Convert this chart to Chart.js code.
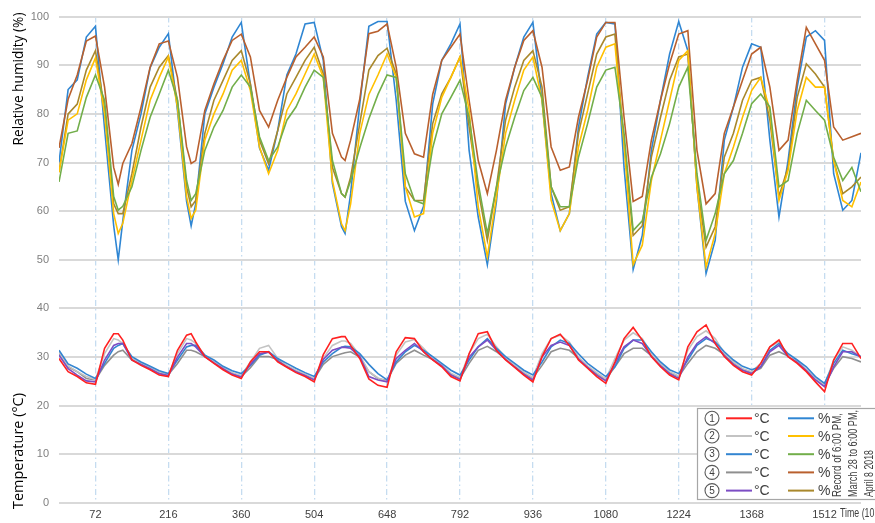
<!DOCTYPE html>
<html><head><meta charset="utf-8">
<script src="https://cdn.jsdelivr.net/npm/chart.js@4.4.1/dist/chart.umd.min.js"></script>
<style>html,body{margin:0;padding:0;background:#fff;overflow:hidden}canvas{display:block}</style>
</head><body>
<canvas id="c" width="875" height="523" style="width:875px;height:523px"></canvas>
<script>
// ---- data (time in 10-minute steps) ----
const time = [0,18,36,54,72,90,108,117,126,144,162,180,198,216,234,252,261,270,288,306,324,342,360,378,396,414,432,450,468,486,504,522,540,558,565,576,594,612,630,648,666,684,702,720,738,756,774,792,810,828,846,864,882,900,918,936,954,972,990,1008,1026,1044,1062,1080,1098,1116,1134,1152,1170,1188,1206,1224,1242,1260,1278,1296,1314,1332,1350,1368,1386,1404,1422,1440,1458,1476,1494,1512,1530,1548,1566,1584];
const xTicks = [72,216,360,504,648,792,936,1080,1224,1368,1512];
const yTicks = [0,10,20,30,40,50,60,70,80,90,100];

// relative humidity (%)
const rh1 = [70,85,87,95.8,98,77,57,50,58,72.5,80, 89.5,93.7,96.5,80.7,62,57,61.5,80,85.5,90.3,95.8, 98.8,86,73,68.4,76.6,88,92.3,98.5,98.8,91, 65.7,56.8,55.4,63.6,82,98,99,99,82.8,62,56, 61,82,91,94.4,98.5,72.5,58.8,49,62,82, 89.6,95.8,98.8,82.8,63.6,56,59.5,77.3,87.5,96.4, 98.8,98.5,69,48,55,72.5,82.8,92.3,99,93, 65,47.2,54,74.6,81.4,89.6,94.4,93.7,74.6,58.8, 70.4,85.5,95.8,97.1,95.1,67.7,60.2,62.2,72];
const rh2 = [68,78.7,80,87,91.5,80,59.5,55.4,57.5,66.3,74.6, 82.8,87.5,91.7,81.4,63,58.5,60.2,74.6,80,84.1,89, 91,84.8,73.2,67.7,72.5,80.7,84.1,88.2,92.3,87.5, 66.3,57.4,56,61.5,76,84,88,92.3,87.5,65,58.8, 59.5,76,83.4,87.5,91.7,80.7,60.9,50.6,63,76, 82.8,89,91.7,82.8,62.2,56,59.5,73.2,80.7,89.6, 93.7,94.4,74,49,53,66.3,74.6,82.8,91,93, 65,48.5,55.4,67.7,73.2,79.3,84.8,87.5,80.7,62.2, 68.4,80.7,87.5,85.5,85.5,70.4,62.2,60.9,66];
const rh3 = [66,76,76.5,83.4,88,82.8,63,60.2,61,65,72.5, 79.3,84.1,89,82.8,66.3,62.2,63.6,72.5,77.3,80.7,85.5, 88,85.5,75.3,70.4,73.2,78.7,81.4,85.5,89,87.5, 70.4,63.6,62.9,66.3,73,79,84,88,87.5,67.7,62.2, 61.5,73,80,83.4,86.9,79.3,65.7,55.4,65,73.2, 79.3,84.8,87.5,83.4,65,60.9,60.9,71.1,78,85.5, 89,89.6,76,56,58,67,71.8,78,85.5,89.6, 67.7,54,59.5,67.7,70.4,76,82.1,84.1,81.4,65, 66.3,76,82.8,80.7,78.7,71.1,66.3,69,64];
const rh4 = [73,83,88,95,96,85.5,69,65.5,69.8,73.9,81.4, 89.6,94.4,95,87.5,73.2,69.8,70.4,80.7,86.2,91,95.1, 96.4,91.7,80.7,77.3,82.8,87.5,91.7,93.7,95.8,91.7, 76,71.1,70.4,74.6,83,96.5,97,98.5,89.6,76,71.8, 71.1,84,91,93.7,96.4,82.8,70.4,63.6,72.5,82.8, 89.6,95.1,97.1,89.6,73.2,68.4,69.1,79.3,86.9,95.8, 98.8,98.8,79.3,62,63,74.6,82.8,90.3,96.4,97.1, 72.5,61.5,63.6,76,81.4,86.9,92.3,93.7,85.5,72.5, 74.6,86.9,97.8,94.4,91,77.3,74.6,75.3,76];
const rh5 = [68,80,82,89,93,81,61.5,59.5,59.5,67.7,77.3, 85.5,89.6,92,82.8,65,60.9,62.2,76,82.8,86.9,91, 93,86.2,74.6,69.7,76.6,84.1,87.5,91,93.7,88.2, 69,63.6,62.9,67,78,89,92,93.5,88.2,65,62.2, 62.2,78,84.1,87.5,91.7,77.3,64.3,54,65,78.7, 85.5,91,93,85.5,65,60.2,60.9,76,84.1,92.3, 95.8,96.4,73.9,55,57,71.1,79.3,86.9,91.7,92.3, 65.7,52.6,56.8,71.1,76,82.8,86.9,87.5,78.7,63, 69.1,83.4,90.3,88.2,85.5,70.4,63.6,65,67];

// temperature (°C)
const t1 = [29.7,27,26,24.7,24.4,31.8,34.8,34.8,33.5,29.4,28.3, 27.4,26.3,26,31.4,34.5,34.8,33.1,30.1,28.7,27.4,26.3, 25.6,29,31.1,31.1,29,27.9,26.8,26,24.9,30.5, 33.8,34.2,34.2,32.4,29.7,25.5,24.2,23.8,31.1,34,33.8, 31.1,29.4,28,26,25.1,30.7,34.8,35.2,31.4,29.4, 27.9,26.3,24.9,30.1,33.8,34.7,32.4,29.4,27.7,26, 24.6,29,33.8,36.1,33.5,30.1,28,26.3,25.3,32.1, 35.2,36.6,32.8,30.1,28.3,27,26.3,28.7,32.1,33.5, 30.1,28.7,27,24.9,22.9,29.4,32.8,32.8,29.7];
const t2 = [31,28.2,27,26,25.4,30.7,33.8,33.5,32.8,29.7,28.8, 27.8,26.9,26.3,30.7,33.8,33.5,32.8,30.4,29,27.8,26.8, 26.2,29,31.8,32.4,29.7,28.3,27.3,26.5,25.6,29.8, 32.4,33.3,33.3,32.8,30.4,27,25.7,25,30.4,33.1,33.6, 31.8,29.8,28.3,26.7,25.8,30.7,33.8,34.7,32.1,29.9, 28.3,26.9,25.8,30.7,33.8,34.5,33.1,30,28.2,26.8, 25.5,29.7,33.5,35,33.8,30.7,28.6,27,26.1,31.4, 34.2,35.4,33.8,30.8,29,27.6,27,28.7,32.1,33.1, 30.4,29.1,27.5,25.6,24.3,29.4,32.1,31.4,30];
const t3 = [31.4,28.6,27.7,26.5,25.6,28.7,31.8,32.4,32.8,30.1,29, 28.1,27.2,26.6,29.4,32.1,32.4,32.4,30.4,29.4,28.1,27.2, 26.6,28.3,30.4,31.1,29.7,28.7,27.7,26.8,26,29, 30.7,32,32.2,32.1,30.7,28.5,26.6,25.3,29,31.1,32.4, 31.4,30.1,28.7,27.3,26.3,29.4,32.1,33.8,31.8,30.1, 28.7,27.3,26.3,29,32.1,33.5,32.8,30.7,28.7,27.3, 26,28,31.8,33.5,33.5,31.1,29,27.4,26.6,29.4, 32.4,33.8,33.1,31.1,29.4,28.1,27.4,28,31.4,32.8, 30.7,29.4,28,26,24.6,28.7,31.4,30.7,30.1];
const t4 = [30.7,28,27,25.6,25.3,28.3,30.4,31.1,31.4,29.4,28.6, 27.7,26.8,26.4,28.7,31.4,31.4,31.1,30.1,28.9,27.7,26.7, 26,27.8,30.1,30.1,29.5,28.2,27.1,26.3,25.5,28.5, 30.1,30.7,30.9,31.1,30,27,25.6,25.2,28.7,30.4,31.4, 30.4,29.5,28.3,26.5,25.6,28.7,31.4,32.2,31.1,29.6, 28.2,26.7,25.7,28.3,31.1,31.8,31.4,29.8,28,26.6, 25.4,28,30.7,31.8,31.8,30.3,28.4,26.8,26,28.7, 31.1,32.4,31.8,30.5,28.8,27.5,26.9,27.7,30.4,31.1, 30.2,29,27.4,25.5,24.4,27.7,30.1,29.7,29];
const t5 = [30.4,27.6,26.3,25.1,24.9,29.4,32.4,32.8,32.8,29.4,28.5, 27.6,26.6,26.2,30,32.8,32.8,32.1,30.1,28.8,27.6,26.5, 25.9,28.5,30.7,31,29.2,28,27,26.2,25.3,29.5, 31.4,32,32,31.8,30.1,26,25.3,24.9,29.7,31.4,32.8, 31.1,29.5,28.2,26.3,25.4,30,32.1,33.5,31.4,29.5, 28,26.5,25.3,30,32.4,33.1,32.4,29.6,27.9,26.3, 25.1,28.7,32.1,33.5,32.8,30.1,28.2,26.6,25.6,30, 32.8,34.2,32.8,30.3,28.5,27.3,26.6,28,31.1,32.4, 30.1,28.9,27.2,25.3,23.9,28,31.1,31.1,30];

const legendNums = ['1','2','3','4','5'];
const tempColors = ['#ff2121','#c3c3c3','#3385d1','#8f8f8f','#7c4dc4'];
const humColors  = ['#2f86d3','#ffc000','#72ae4a','#b9602e','#a9882c'];
const noteLines = ['Record of 6:00 PM,','March 28 to 6:00 PM,','April 8 2018'];

const pts = arr => time.map((x,i)=>({x:x, y:arr[i]}));
const mk = (arr,color) => ({data:pts(arr), borderColor:color, backgroundColor:color, borderWidth:1.6, pointRadius:0, tension:0, fill:false});

const datasets = [
  mk(t1,tempColors[0]), mk(t5,tempColors[4]), mk(t3,tempColors[2]), mk(t2,tempColors[1]), mk(t4,tempColors[3]),
  mk(rh3,humColors[2]), mk(rh2,humColors[1]), mk(rh5,humColors[4]), mk(rh4,humColors[3]), mk(rh1,humColors[0])
];

const overlay = {
  id:'overlay',
  afterDraw(chart){
    const ctx = chart.ctx;
    ctx.save();
    function vtext(txt, cx, cy, targetW, family, color){
      ctx.font = '20px '+family;
      const w = ctx.measureText(txt).width;
      const size = 20*targetW/w;
      ctx.font = size.toFixed(2)+'px '+family;
      ctx.save(); ctx.translate(cx, cy); ctx.rotate(-Math.PI/2);
      ctx.fillStyle = color; ctx.textAlign='center'; ctx.textBaseline='middle';
      ctx.fillText(txt, 0, 0); ctx.restore();
    }
    // text squeezed horizontally to a target width (narrow look)
    function narrow(txt, x, y, rot, targetW, font){
      ctx.font = font;
      const w = ctx.measureText(txt).width;
      ctx.save(); ctx.translate(x, y); if(rot) ctx.rotate(rot);
      ctx.scale(targetW/w, 1);
      ctx.textAlign='left'; ctx.textBaseline='middle';
      ctx.fillText(txt, 0, 0); ctx.restore();
    }
    vtext('Relative humidity (%)', 19, 79, 133, '"Open Sans", "Noto Sans", sans-serif', '#000');
    vtext('Temperature (°C)', 19, 451, 116, '"Open Sans", "Noto Sans", sans-serif', '#000');

    // axis title at right end
    ctx.fillStyle='#404040';
    narrow("Time (10')", 840, 514, 0, 39, '12px "Liberation Sans", sans-serif');

    // legend
    const lx=697, ly=408, lw=190, lh=91;
    ctx.fillStyle='#fff'; ctx.fillRect(lx,ly,lw,lh);
    ctx.strokeStyle='#a6a6a6'; ctx.lineWidth=1.2; ctx.strokeRect(lx+0.5,ly+0.5,lw,lh);
    const rows=[418.3,436,454.2,472.4,490.6];
    for(let i=0;i<5;i++){
      const y=rows[i];
      ctx.beginPath(); ctx.arc(712,y,7,0,Math.PI*2); ctx.strokeStyle='#595959'; ctx.lineWidth=1.1; ctx.stroke();
      ctx.fillStyle='#404040'; ctx.font='10px "Liberation Sans", sans-serif'; ctx.textAlign='center'; ctx.textBaseline='middle';
      ctx.fillText(legendNums[i],712,y+0.5);
      ctx.lineWidth=2;
      ctx.strokeStyle=tempColors[i]; ctx.beginPath(); ctx.moveTo(726,y); ctx.lineTo(752,y); ctx.stroke();
      ctx.strokeStyle=humColors[i]; ctx.beginPath(); ctx.moveTo(788,y); ctx.lineTo(814,y); ctx.stroke();
      ctx.fillStyle='#404040'; ctx.font='14px "Liberation Sans", sans-serif'; ctx.textAlign='left';
      ctx.fillText('°C',754,y+1);
      ctx.fillText('%',818,y+1);
    }
    ctx.fillStyle='#404040';
    const nx=[838,854,870];
    const nw=[84,87,47];
    for(let j=0;j<3;j++){
      narrow(noteLines[j], nx[j], 497, -Math.PI/2, nw[j], '12px "Liberation Sans", sans-serif');
    }
    ctx.restore();
  }
};

new Chart(document.getElementById('c'), {
  type:'line',
  data:{datasets:datasets},
  plugins:[overlay],
  options:{
    responsive:false, animation:false, devicePixelRatio:1,
    layout:{padding:{left:0,right:14,top:16,bottom:0}},
    plugins:{legend:{display:false}, tooltip:{enabled:false}},
    scales:{
      x:{type:'linear', min:0, max:1584,
        afterBuildTicks:a=>{a.ticks=xTicks.map(v=>({value:v}));},
        grid:{color:'#c5dcf0', lineWidth:1.3, drawTicks:false},
        border:{display:false, dash:[6,3,1.5,3]},
        ticks:{color:'#404040', font:{family:'"Liberation Sans", sans-serif', size:11}, padding:5, maxRotation:0, autoSkip:false, callback:v=>String(v)},
        afterFit:s=>{s.height=20;}
      },
      y:{type:'linear', min:0, max:100,
        afterBuildTicks:a=>{a.ticks=yTicks.map(v=>({value:v}));},
        grid:{color:'#d9d9d9', lineWidth:2, drawTicks:false},
        border:{display:false},
        ticks:{color:'#7f7f7f', font:{family:'"Liberation Sans", sans-serif', size:11}, padding:10, callback:v=>String(v)},
        afterFit:s=>{s.width=59;}
      }
    }
  }
});
</script>
</body></html>
